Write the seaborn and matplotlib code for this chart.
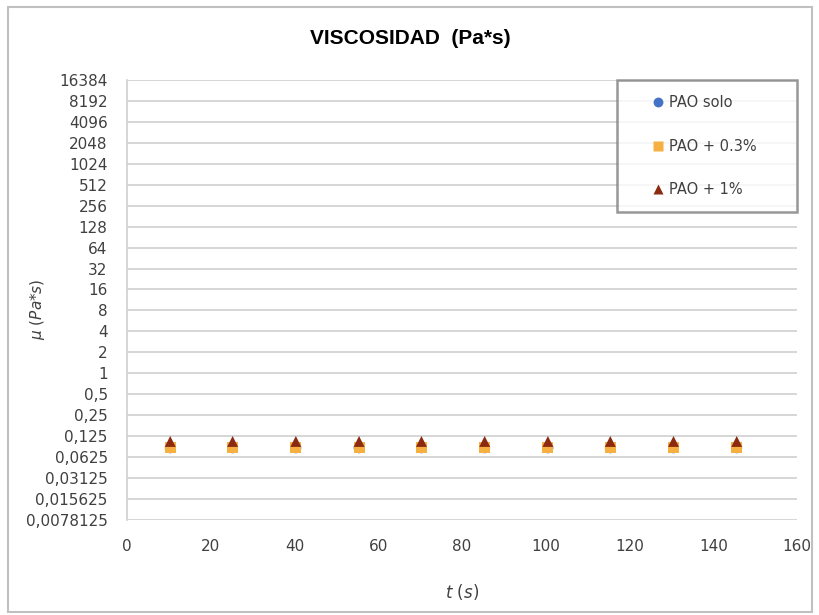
import numpy as np
import pandas as pd
import seaborn as sns
import matplotlib
matplotlib.use("Agg")
import matplotlib.pyplot as plt
from matplotlib.patches import Rectangle
from matplotlib.ticker import FixedLocator, FixedFormatter

# ---- data ----
t_s = [10.3, 25.2, 40.3, 55.4, 70.3, 85.4, 100.5, 115.4, 130.5, 145.6]
mu_solo = [0.085, 0.085, 0.085, 0.085, 0.085, 0.085, 0.085, 0.085, 0.085, 0.085]
mu_03 = [0.086, 0.086, 0.086, 0.086, 0.086, 0.086, 0.086, 0.086, 0.086, 0.086]
mu_1 = [0.105, 0.105, 0.105, 0.105, 0.105, 0.105, 0.105, 0.105, 0.105, 0.105]
series_names = ["PAO solo", "PAO + 0.3%", "PAO + 1%"]
y_tick_labels = ["0,0078125", "0,015625", "0,03125", "0,0625", "0,125", "0,25", "0,5",
                 "1", "2", "4", "8", "16", "32", "64", "128", "256", "512", "1024",
                 "2048", "4096", "8192", "16384"]
x_ticks = [0, 20, 40, 60, 80, 100, 120, 140, 160]

df = pd.DataFrame({
    "t": t_s * 3,
    "mu": mu_solo + mu_03 + mu_1,
    "serie": [series_names[0]] * len(t_s) + [series_names[1]] * len(t_s) + [series_names[2]] * len(t_s),
})

sns.set_theme(style="white")
plt.rcParams['font.family'] = ['DejaVu Sans']

fig = plt.figure(figsize=(8.2, 6.15), dpi=100)
ax = fig.add_axes([0.155, 0.1545, 0.817, 0.7155])

palette = {series_names[0]: "#4472C4", series_names[1]: "#F5B041", series_names[2]: "#8B2A10"}
markers = {series_names[0]: "o", series_names[1]: "s", series_names[2]: "^"}
sns.scatterplot(data=df, x="t", y="mu", hue="serie", style="serie",
                palette=palette, markers=markers, s=62, edgecolor="none",
                ax=ax, zorder=3)

ax.set_yscale("log", base=2)
ax.set_ylim(2 ** -7, 2 ** 14)
ax.set_xlim(0, 160)
yt = [2.0 ** k for k in range(-7, 15)]
ax.yaxis.set_major_locator(FixedLocator(yt))
ax.yaxis.set_major_formatter(FixedFormatter(y_tick_labels))
ax.yaxis.set_minor_locator(FixedLocator([]))
ax.set_xticks(x_ticks)
ax.set_xticklabels([str(v) for v in x_ticks])
ax.grid(axis="y", color="#D0D0D0", linewidth=1.2)
ax.grid(axis="x", visible=False)
for side in ["top", "right", "bottom"]:
    ax.spines[side].set_visible(False)
ax.spines["left"].set_color("#D0D0D0")
ax.spines["left"].set_linewidth(1.2)
ax.tick_params(axis="both", labelsize=11, colors="#404040", length=0)
ax.tick_params(axis="y", pad=14)
ax.tick_params(axis="x", pad=14)

ax.set_xlabel(r"$t\ (s)$", fontsize=12, color="#404040", labelpad=20)
ax.set_ylabel(r"$\mu\ (Pa{*}s)$", fontsize=11, color="#404040")
ax.yaxis.set_label_coords(-0.12, 0.48)
fig.text(0.5, 0.938, "VISCOSIDAD  (Pa*s)", fontsize=15, fontweight="bold",
         color="black", ha="center", va="center", family="Liberation Sans")

leg = ax.legend(loc="upper right", frameon=True, fontsize=10.5, labelspacing=1.95,
                borderpad=1.05, handlelength=3.6, handletextpad=-1.1, markerscale=0.9,
                bbox_to_anchor=(0.731, 0.0, 0.269, 1.0), mode="expand",
                borderaxespad=0.0, fancybox=False)
leg.get_frame().set_edgecolor("#7F7F7F")
leg.get_frame().set_linewidth(1.8)
for txt in leg.get_texts():
    txt.set_color("#404040")

fig.patches.append(Rectangle((0.01, 0.005), 0.98, 0.983, transform=fig.transFigure,
                             fill=False, edgecolor="#C0C0C0", linewidth=1.5))

fig.savefig("out.png", dpi=100)
